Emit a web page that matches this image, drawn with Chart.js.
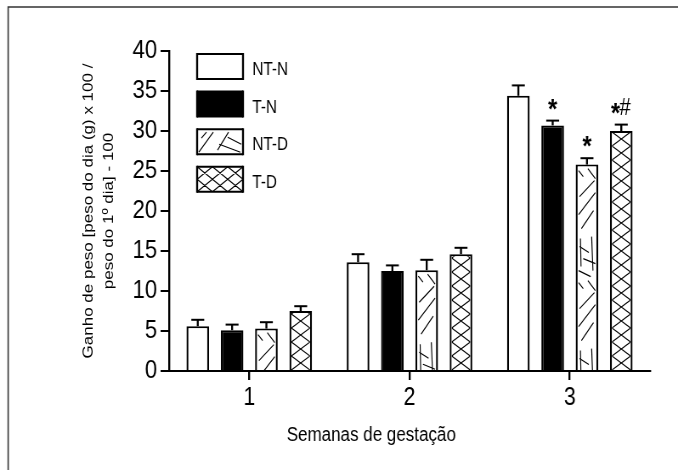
<!DOCTYPE html>
<html>
<head>
<meta charset="utf-8">
<script src="https://cdn.jsdelivr.net/npm/chart.js@4.4.0/dist/chart.umd.min.js"></script>
<style>
  html, body { margin: 0; padding: 0; background: #fff; }
  /* the original figure is horizontally condensed: draw wide, show at 678px */
  canvas { display: block; width: 678px; height: 470px; }
</style>
</head>
<body>
<canvas id="myChart" width="798" height="470" style="width:678px;height:470px"></canvas>
<script>
// weeks of gestation (x axis)
var weeks = ['1', '2', '3'];
// y axis ticks
var yTicks = [0, 5, 10, 15, 20, 25, 30, 35, 40];
// group names
var groups = ['NT-N', 'T-N', 'NT-D', 'T-D'];
// mean weight gain for each group, week 1..3
var ntn = [5.6, 13.6, 34.4];
var tn = [5.1, 12.5, 30.7];
var ntd = [5.3, 12.6, 25.8];
var td = [7.5, 14.6, 30.0];
// upper error bar (standard error)
var ntnErr = [0.8, 1.0, 1.3];
var tnErr = [0.7, 0.7, 0.6];
var ntdErr = [0.8, 1.3, 0.8];
var tdErr = [0.6, 0.8, 0.8];
// significance marks
var ntnMarks = ['', '', ''];
var tnMarks = ['', '', '*'];
var ntdMarks = ['', '', '*'];
var tdMarks = ['', '', '*#'];

var FONT = "'Liberation Sans', Arial, sans-serif";
Chart.defaults.font.family = FONT;
Chart.defaults.color = '#000';

// canvas is squeezed by 0.85 horizontally, so vertical strokes get a bit wider
var VW = 2.35;

// texture for NT-D: loose strokes, x as fraction of bar width, y in px
var looseStrokes = [
  [0.05, 4, 0.3, 10], [0.55, 2, 0.95, 12], [0.1, 30, 0.9, 14],
  [0.05, 48, 0.95, 26], [0.2, 62, 0.85, 44], [0.15, 72, 0.18, 100],
  [0.75, 70, 0.82, 104], [0.1, 80, 0.6, 86], [0.3, 92, 0.95, 97],
  [0.05, 104, 0.7, 110]
];

function drawLoose(ctx, l, t, w, h) {
  ctx.beginPath();
  for (var y0 = t; y0 < t + h; y0 += 112) {
    looseStrokes.forEach(function (s) {
      ctx.moveTo(l + s[0] * w, y0 + s[1]);
      ctx.lineTo(l + s[2] * w, y0 + s[3]);
    });
  }
  ctx.stroke();
}

function drawCross(ctx, l, t, w, h, cell, period) {
  ctx.beginPath();
  for (var x0 = l; x0 < l + w; x0 += cell) {
    for (var y = t + h + period; y > t - period; y -= period) {
      ctx.moveTo(x0, y); ctx.lineTo(x0 + cell, y - period);
      ctx.moveTo(x0 + cell, y); ctx.lineTo(x0, y - period);
    }
  }
  ctx.stroke();
}

function fillTexture(ctx, kind, l, t, w, h, legend) {
  ctx.save();
  ctx.beginPath();
  ctx.rect(l, t, w, h);
  ctx.clip();
  ctx.strokeStyle = '#000';
  ctx.lineWidth = 1.15;
  if (kind === 'loose') {
    if (legend) {
      ctx.beginPath();
      ctx.moveTo(l + 2, t + h - 2); ctx.lineTo(l + 19, t + 3);
      ctx.moveTo(l + 5, t + 9); ctx.lineTo(l + 11, t + 3);
      ctx.moveTo(l + 24, t + h - 4); ctx.lineTo(l + 37, t + 3);
      ctx.moveTo(l + 36, t + 8); ctx.lineTo(l + 52, t + 15);
      ctx.moveTo(l + 26, t + 15); ctx.lineTo(l + 51, t + h - 2);
      ctx.stroke();
    } else {
      drawLoose(ctx, l, t, w, h);
    }
  } else if (kind === 'cross') {
    if (legend) drawCross(ctx, l, t, w, h, w / 3, h / 2);
    else drawCross(ctx, l, t, w, h, w, 14);
  }
  ctx.restore();
}

var textures = [null, null, 'loose', 'cross'];
var errs = [ntnErr, tnErr, ntdErr, tdErr];
var marks = [ntnMarks, tnMarks, ntdMarks, tdMarks];

var decorPlugin = {
  id: 'decor',
  beforeDraw: function (chart) {
    var ctx = chart.ctx;
    ctx.save();
    ctx.fillStyle = '#fff';
    ctx.fillRect(0, 0, chart.width, chart.height);
    ctx.strokeStyle = '#333';
    ctx.lineWidth = 1.6;
    ctx.beginPath();
    ctx.moveTo(9.6, chart.height); ctx.lineTo(9.6, 7); ctx.lineTo(chart.width, 7);
    ctx.stroke();
    ctx.restore();
  },
  afterDatasetsDraw: function (chart) {
    var ctx = chart.ctx;
    var yScale = chart.scales.y;
    chart.data.datasets.forEach(function (ds, i) {
      var meta = chart.getDatasetMeta(i);
      meta.data.forEach(function (el, j) {
        var p = el.getProps(['x', 'y', 'base', 'width'], true);
        var l = p.x - p.width / 2, t = p.y;
        if (textures[i]) fillTexture(ctx, textures[i], l + VW, t + 2, p.width - 2 * VW, p.base - t - 2, false);
        // error bar
        var yTop = yScale.getPixelForValue(ds.data[j] + errs[i][j]);
        ctx.save();
        ctx.strokeStyle = '#000';
        ctx.lineWidth = VW;
        ctx.beginPath();
        ctx.moveTo(p.x, t); ctx.lineTo(p.x, yTop);
        ctx.stroke();
        ctx.lineWidth = 2;
        ctx.beginPath();
        ctx.moveTo(p.x - 7.6, yTop); ctx.lineTo(p.x + 7.6, yTop);
        ctx.stroke();
        // significance marks
        var m = marks[i][j];
        if (m) {
          ctx.fillStyle = '#000';
          ctx.textBaseline = 'alphabetic';
          ctx.textAlign = 'left';
          var starFont = 'bold 28px ' + FONT;
          var hashFont = '24px ' + FONT;
          ctx.font = starFont;
          var sw = ctx.measureText('*').width;
          var hw = 0;
          if (m.indexOf('#') >= 0) { ctx.font = hashFont; hw = ctx.measureText('#').width; }
          var x0 = p.x - (sw + hw) / 2;
          ctx.font = starFont;
          ctx.fillText('*', x0, yTop - 3);
          if (hw) { ctx.font = hashFont; ctx.fillText('#', x0 + sw - 1, yTop - 10); }
        }
        ctx.restore();
      });
    });
  },
  afterDraw: function (chart) {
    var ctx = chart.ctx;
    var area = chart.chartArea;
    ctx.save();
    // legend
    var bx = area.left + 33, by = area.top + 3;
    chart.data.datasets.forEach(function (ds, i) {
      var y = by + i * 37.6;
      ctx.fillStyle = ds.backgroundColor;
      ctx.fillRect(bx, y, 54, 25);
      if (textures[i]) fillTexture(ctx, textures[i], bx, y, 54, 25, true);
      ctx.strokeStyle = '#000';
      ctx.lineWidth = 2;
      ctx.beginPath();
      ctx.moveTo(bx, y); ctx.lineTo(bx + 54, y);
      ctx.moveTo(bx, y + 25); ctx.lineTo(bx + 54, y + 25);
      ctx.stroke();
      ctx.lineWidth = VW;
      ctx.beginPath();
      ctx.moveTo(bx, y - 1); ctx.lineTo(bx, y + 26);
      ctx.moveTo(bx + 54, y - 1); ctx.lineTo(bx + 54, y + 26);
      ctx.stroke();
      ctx.fillStyle = '#000';
      ctx.font = '18px ' + FONT;
      ctx.textAlign = 'left';
      ctx.textBaseline = 'middle';
      ctx.fillText(ds.label, bx + 65, y + 16);
    });
    // axis titles
    ctx.font = '20px ' + FONT;
    ctx.textAlign = 'center';
    ctx.textBaseline = 'middle';
    ctx.fillText('Semanas de gestação', 437, 435);
    ctx.font = '17px ' + FONT;
    ctx.translate(116, (area.top + area.bottom) / 2);
    ctx.rotate(-Math.PI / 2);
    ctx.fillText('Ganho de peso [peso do dia (g) x 100 /', 0, -12);
    ctx.fillText('peso do 1º dia] - 100', 0, 12);
    ctx.restore();
  }
};

var ctx = document.getElementById('myChart');
var myChart = new Chart(ctx, {
  type: 'bar',
  data: {
    labels: weeks,
    datasets: [
      { label: groups[0], data: ntn, backgroundColor: '#fff' },
      { label: groups[1], data: tn, backgroundColor: '#000' },
      { label: groups[2], data: ntd, backgroundColor: '#fff' },
      { label: groups[3], data: td, backgroundColor: '#fff' }
    ]
  },
  options: {
    responsive: false,
    animation: false,
    devicePixelRatio: 1,
    barPercentage: 0.66,
    categoryPercentage: 0.856,
    datasets: {
      bar: {
        borderColor: '#000',
        borderWidth: { left: VW, right: VW, top: 2, bottom: 0 },
        borderSkipped: false
      }
    },
    layout: { padding: { left: 0, top: 51, right: 33, bottom: 0 } },
    plugins: { legend: { display: false }, tooltip: { enabled: false } },
    scales: {
      x: {
        grid: { drawOnChartArea: false, offset: false, tickLength: 9, lineWidth: VW, color: '#000' },
        border: { color: '#000', width: 2 },
        ticks: { font: { size: 25 }, color: '#000', padding: 3 },
        afterFit: function (s) { s.height = 99; }
      },
      y: {
        min: 0,
        max: 40,
        afterBuildTicks: function (s) { s.ticks = yTicks.map(function (v) { return { value: v }; }); },
        grid: { drawOnChartArea: false, tickLength: 10, lineWidth: 2, color: '#000' },
        border: { color: '#000', width: VW },
        ticks: { font: { size: 26 }, color: '#000', padding: 4 },
        afterFit: function (s) { s.width = 199; }
      }
    }
  },
  plugins: [decorPlugin]
});
</script>
</body>
</html>
